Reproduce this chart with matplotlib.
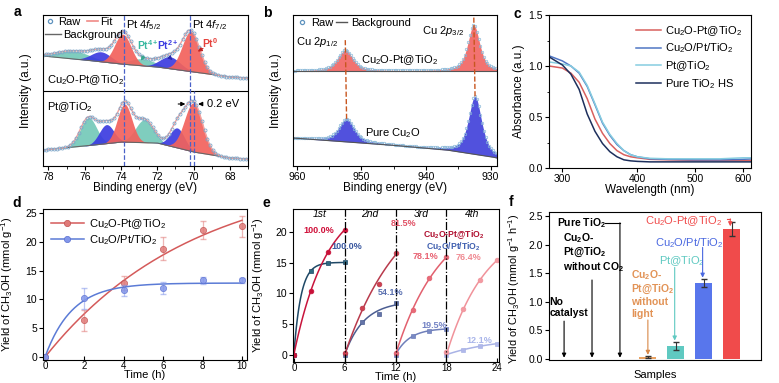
import numpy as np
import matplotlib.pyplot as plt
from matplotlib.lines import Line2D
from matplotlib.ticker import NullLocator, FormatStrFormatter

plt.rcParams['font.family'] = ['Liberation Sans', 'DejaVu Sans']
plt.rcParams['font.size'] = 8
plt.rcParams['mathtext.default'] = 'regular'
plt.rcParams['mathtext.fontset'] = 'custom'
plt.rcParams['mathtext.it'] = 'Liberation Sans:italic'
plt.rcParams['axes.linewidth'] = 0.8
plt.rcParams['xtick.labelsize'] = 7.5
plt.rcParams['ytick.labelsize'] = 7.5
plt.rcParams['xtick.major.size'] = 3
plt.rcParams['ytick.major.size'] = 3
plt.rcParams['xtick.minor.size'] = 1.8
plt.rcParams['ytick.minor.size'] = 1.8
plt.rcParams['xtick.major.pad'] = 1.2
plt.rcParams['ytick.major.pad'] = 1.2

# ---------------- data ----------------
# a : Pt 4f XPS (peak centre eV, height, sigma), y in arbitrary units
a_bg_ev = [78.3, 76, 74, 72, 70, 68, 67]
a_bg_top = [110, 106, 102, 99, 94, 89, 88]
a_bg_bot = [16, 20, 24, 23, 14, 8, 7]
a_state = ['Pt4+', 'Pt4+', 'Pt2+', 'Pt2+', 'Pt0', 'Pt0']
a_c_top = [76.6, 72.8, 75.1, 71.3, 73.9, 70.15]
a_h_top = [8, 7, 10, 12, 30, 40]
a_s_top = [0.9, 0.7, 0.55, 0.55, 0.45, 0.48]
a_c_bot = [75.8, 72.7, 74.8, 70.9, 73.8, 70.0]
a_h_bot = [28, 23, 19, 20, 38, 49]
a_s_bot = [0.45, 0.5, 0.4, 0.4, 0.4, 0.5]

# b : Cu 2p XPS (centre, height, fwhm)
b_bg_ev = [960.6, 945.6, 936.8, 929.7, 929]
b_bg_top = [95, 95, 95, 95, 95]
b_bg_bot = [28, 21, 16, 9, 8]
b_c_top = [952.5, 932.6]
b_h_top = [21, 46]
b_w_top = [2.8, 2.2]
b_c_bot = [952.3, 932.4]
b_h_bot = [23, 58]
b_w_bot = [2.8, 2.4]

# c : UV-vis (log wavelength axis)
c_wl = [285, 300, 310, 320, 330, 340, 350, 360, 370, 380, 390, 400, 420, 450, 500, 550, 600, 620]
c_names = ['Cu$_2$O-Pt@TiO$_2$', 'Cu$_2$O/Pt/TiO$_2$', 'Pt@TiO$_2$', 'Pure TiO$_2$ HS']
c_abs = [
    [1.00, 0.98, 0.93, 0.84, 0.68, 0.48, 0.34, 0.24, 0.17, 0.13, 0.11, 0.10, 0.085, 0.08, 0.075, 0.075, 0.075, 0.075],
    [1.10, 1.05, 1.00, 0.93, 0.80, 0.62, 0.44, 0.32, 0.23, 0.17, 0.13, 0.11, 0.09, 0.085, 0.08, 0.08, 0.085, 0.09],
    [1.04, 1.02, 1.00, 0.94, 0.81, 0.63, 0.45, 0.33, 0.24, 0.17, 0.13, 0.11, 0.095, 0.09, 0.09, 0.09, 0.10, 0.10],
    [1.09, 1.01, 0.92, 0.77, 0.53, 0.36, 0.24, 0.16, 0.11, 0.08, 0.07, 0.065, 0.06, 0.06, 0.06, 0.06, 0.06, 0.06],
]
c_colors = ['#d9605e', '#4f76c4', '#86cde0', '#1d2f5c']

# d : yield vs time
d_t = [0, 2, 4, 6, 8, 10]
d_red = [0, 6.4, 12.9, 18.8, 22.1, 22.7]
d_red_err = [0, 1.8, 1.2, 2.0, 1.6, 1.8]
d_blue = [0, 10.2, 11.6, 12.0, 13.3, 13.3]
d_blue_err = [0, 1.8, 1.0, 1.0, 0.6, 0.5]

# e : recycling
e_start = [0, 6, 12, 18]
e_t = [0, 2, 4, 6]
e_red = [[0, 10.4, 16.7, 20.4], [0.3, 7.7, 11.6, 16.6], [0.3, 7.3, 12.5, 15.9], [0.5, 7.5, 12.2, 15.5]]
e_blue = [[0, 13.7, 14.9, 15.1], [0, 5.4, 6.7, 8.4], [0, 3.0, 3.9, 4.2], [0, 0.8, 1.4, 1.8]]
e_red_pct = ['100.0%', '81.5%', '78.1%', '76.4%']
e_blue_pct = ['100.0%', '54.1%', '19.5%', '12.1%']
e_cycle = ['1st', '2nd', '3rd', '4th']

# f : control experiments
f_vals = [0, 0, 0, 0.03, 0.22, 1.33, 2.27]
f_err = [0, 0, 0, 0.02, 0.07, 0.07, 0.12]
f_colors = ['#000000', '#000000', '#000000', '#e9a262', '#5fc9c1', '#5876ec', '#f04b4b']

W, H = 779, 383


def box(l, t, r, b):
    return [l / W, 1 - b / H, (r - l) / W, (b - t) / H]


def gauss(x, c, h, s):
    return h * np.exp(-(x - c) ** 2 / (2 * s ** 2))


def pvoigt(x, c, h, w, eta=0.65):
    g = np.exp(-4 * np.log(2) * (x - c) ** 2 / w ** 2)
    lo = 1 / (1 + 4 * (x - c) ** 2 / w ** 2)
    return h * (eta * lo + (1 - eta) * g)


def sat_fit(t, y):
    t = np.asarray(t, float)
    y = np.asarray(y, float)
    best = None
    for k in np.linspace(0.01, 3, 900):
        f = 1 - np.exp(-k * t)
        a = (f @ y) / (f @ f)
        err = ((a * f - y) ** 2).sum()
        if best is None or err < best[0]:
            best = (err, a, k)
    return best[1], best[2]


fig = plt.figure(figsize=(7.79, 3.83), dpi=100)

for lab, px, py in [('a', 17, 12), ('b', 267, 13), ('c', 517, 14),
                    ('d', 17, 203), ('e', 266, 203), ('f', 511, 202)]:
    fig.text(px / W, 1 - py / H, lab, fontsize=10, fontweight='bold', ha='center', va='center')

# ---------------- a ----------------
ax = fig.add_axes(box(43, 15, 248, 166))
x = np.linspace(78.3, 67, 600)
fills = {'Pt4+': '#74c9b9', 'Pt2+': '#3b3be0', 'Pt0': '#f2625c'}
for bgv, cs, hs, ss in [(a_bg_top, a_c_top, a_h_top, a_s_top), (a_bg_bot, a_c_bot, a_h_bot, a_s_bot)]:
    bg = np.interp(x, a_bg_ev[::-1], bgv[::-1])
    env = bg.copy()
    for st in ['Pt4+', 'Pt2+', 'Pt0']:
        for s_, c_, h_, w_ in zip(a_state, cs, hs, ss):
            if s_ == st:
                p = gauss(x, c_, h_, w_)
                ax.fill_between(x, bg, bg + p, color=fills[st], lw=0, alpha=0.92)
    for c_, h_, w_ in zip(cs, hs, ss):
        env = env + gauss(x, c_, h_, w_)
    ax.plot(x, bg, color='#666666', lw=0.8)
    ax.plot(x, env, color='#f3a3a0', lw=1.0)
    ax.plot(x[::8], env[::8], 'o', ms=2.2, mfc='none', mec='#7ea6c8', mew=0.6)
ax.axhline(75, color='k', lw=0.8)
ax.axvline(73.85, color='#4a62c8', ls='--', lw=0.9)
ax.axvline(70.2, color='#4a62c8', ls='--', lw=0.9)
ax.plot([70.0, 70.0], [0, 75], color='#4a62c8', ls='--', lw=0.9)
ax.set_xlim(78.3, 67)
ax.set_ylim(0, 151)
ax.set_yticks([])
ax.set_xticks([78, 76, 74, 72, 70, 68])
ax.set_xticks(np.arange(67, 79, 1), minor=True)
ax.set_xlabel('Binding energy (eV)', fontsize=8.5)
ax.xaxis.set_label_coords(0.5, -0.105)
ax.set_ylabel('Intensity (a.u.)', fontsize=8.5)
ax.yaxis.set_label_coords(-0.055, 0.5)
ax.text(73.75, 141, 'Pt 4$\\mathit{f}_{5/2}$', fontsize=8, va='center')
ax.text(70.07, 141, 'Pt 4$\\mathit{f}_{7/2}$', fontsize=8, va='center')
ax.text(72.5, 121, 'Pt$^{4+}$', color='#38b8a0', fontsize=7.5, ha='center', va='center', fontweight='bold')
ax.text(71.4, 121, 'Pt$^{2+}$', color='#3b3be0', fontsize=7.5, ha='center', va='center', fontweight='bold')
ax.text(69.07, 123, 'Pt$^{0}$', color='#e5423c', fontsize=7.5, ha='center', va='center', fontweight='bold')
for (x0, y0, x1, y1, col) in [(72.66, 112, 72.99, 103, '#38a890'), (71.4, 110, 71.05, 104, '#2a2ab0'),
                              (69.35, 119, 69.9, 113, '#c02020')]:
    ax.annotate('', xy=(x1, y1), xytext=(x0, y0),
                arrowprops=dict(arrowstyle='-|>', color=col, lw=0.8, mutation_scale=6))
ax.annotate('', xy=(70.3, 62), xytext=(71.0, 62),
            arrowprops=dict(arrowstyle='-|>', color='k', lw=0.8, mutation_scale=6))
ax.annotate('', xy=(69.9, 62), xytext=(69.35, 62),
            arrowprops=dict(arrowstyle='-|>', color='k', lw=0.8, mutation_scale=6))
ax.text(69.25, 62, '0.2 eV', fontsize=8, va='center')
ax.text(78.08, 86, 'Cu$_2$O-Pt@TiO$_2$', fontsize=8, va='center')
ax.text(78.08, 59, 'Pt@TiO$_2$', fontsize=8, va='center')
h_raw = Line2D([], [], ls='none', marker='o', ms=3, mfc='none', mec='#5f93bf', mew=0.9)
h_fit = Line2D([], [], color='#f08a86', lw=1.2)
h_bg = Line2D([], [], color='#666666', lw=1.0)
leg1 = ax.legend([h_raw, h_fit], ['Raw', 'Fit'], loc='upper left', ncol=2, frameon=False,
                 fontsize=8, handlelength=1.0, handletextpad=0.2, columnspacing=0.6,
                 borderaxespad=0.0, borderpad=0.15)
ax.add_artist(leg1)
ax.legend([h_bg], ['Background'], loc='upper left', bbox_to_anchor=(0.0, 0.91), frameon=False,
          fontsize=8, handlelength=1.5, handletextpad=0.2, borderaxespad=0.0, borderpad=0.15)

# ---------------- b ----------------
ax = fig.add_axes(box(293, 15, 497, 166))
x = np.linspace(960.6, 929, 700)
for bgv, cs, hs, ws, col in [(b_bg_top, b_c_top, b_h_top, b_w_top, '#f26a68'),
                             (b_bg_bot, b_c_bot, b_h_bot, b_w_bot, '#4747dc')]:
    bg = np.interp(x, b_bg_ev[::-1], bgv[::-1])
    env = bg.copy()
    for c_, h_, w_ in zip(cs, hs, ws):
        env = env + pvoigt(x, c_, h_, w_)
    ax.fill_between(x, bg, env, color=col, lw=0, alpha=0.95)
    ax.plot(x[::6], env[::6], 'o', ms=1.8, mfc='none', mec='#88b8d8', mew=0.5)
    ax.plot(x, bg, color='#555555', lw=0.8)
for c0, c1, top in zip(b_c_bot, b_c_top, [126, 151]):
    ax.plot([c0, c1], [b_h_bot[b_c_bot.index(c0)] + np.interp(c0, b_bg_ev[::-1], b_bg_bot[::-1]), top],
            color='#c8561f', ls='--', lw=1.0)
ax.set_xlim(960.6, 929)
ax.set_ylim(0, 151)
ax.set_yticks([])
ax.set_xticks([960, 950, 940, 930])
ax.set_xticks(np.arange(930, 961, 5), minor=True)
ax.set_xlabel('Binding energy (eV)', fontsize=8.5)
ax.xaxis.set_label_coords(0.5, -0.105)
ax.set_ylabel('Intensity (a.u.)', fontsize=8.5)
ax.yaxis.set_label_coords(-0.054, 0.5)
ax.text(956.9, 124, 'Cu 2$\\mathit{p}_{1/2}$', fontsize=8, ha='center', va='center')
ax.text(937.4, 135, 'Cu 2$\\mathit{p}_{3/2}$', fontsize=8, ha='center', va='center')
ax.text(944.1, 106, 'Cu$_2$O-Pt@TiO$_2$', fontsize=8, ha='center', va='center')
ax.text(945.1, 33, 'Pure Cu$_2$O', fontsize=8, ha='center', va='center')
h_raw = Line2D([], [], ls='none', marker='o', ms=3, mfc='none', mec='#5f93bf', mew=0.9)
h_bg = Line2D([], [], color='#555555', lw=1.0)
ax.legend([h_raw, h_bg], ['Raw', 'Background'], loc='upper left', ncol=2, frameon=False,
          fontsize=8, handlelength=1.0, handletextpad=0.3, columnspacing=0.3,
          borderaxespad=0.1, borderpad=0.2)

# ---------------- c ----------------
ax = fig.add_axes(box(549, 15, 751, 168))
for name, ys, col in zip(c_names, c_abs, c_colors):
    ax.plot(c_wl, ys, color=col, lw=1.1, label=name)
ax.set_xscale('log')
ax.set_xlim(285, 619)
ax.set_ylim(0, 1.5)
ax.set_xticks([300, 400, 500, 600])
ax.xaxis.set_major_formatter(FormatStrFormatter('%d'))
ax.xaxis.set_minor_locator(NullLocator())
ax.set_yticks([0, 0.5, 1.0, 1.5])
ax.set_yticks(np.arange(0, 1.51, 0.25), minor=True)
ax.yaxis.set_major_formatter(FormatStrFormatter('%.1f'))
ax.set_xlabel('Wavelength (nm)', fontsize=8.5)
ax.xaxis.set_label_coords(0.5, -0.105)
ax.set_ylabel('Absorbance (a.u.)', fontsize=8.5)
ax.yaxis.set_label_coords(-0.12, 0.5)
ax.legend(loc='upper right', frameon=False, fontsize=8, handlelength=2.2, handletextpad=0.4,
          labelspacing=0.35, borderaxespad=0.4)

# ---------------- d ----------------
ax = fig.add_axes(box(43, 209, 247, 360))
for ys, es, lc, fc, ec in [(d_red, d_red_err, '#d45a5a', '#e07a78', '#c05050'),
                           (d_blue, d_blue_err, '#5b7bd6', '#8296ea', '#5a70d0')]:
    a_, k_ = sat_fit(d_t, ys)
    tt = np.linspace(0, max(d_t), 200)
    ax.plot(tt, a_ * (1 - np.exp(-k_ * tt)), color=lc, lw=1.1)
    ax.errorbar(d_t, ys, yerr=es, fmt='none', ecolor=fc, alpha=0.55, elinewidth=0.9, capsize=2)
    ax.plot(d_t, ys, 'o', ms=4.5, mfc=fc, mec=ec, mew=0.5, alpha=0.85)
h1 = Line2D([], [], color='#d45a5a', lw=1.1, marker='o', ms=4.5, mfc='#e07a78', mec='#c05050', mew=0.5)
h2 = Line2D([], [], color='#5b7bd6', lw=1.1, marker='o', ms=4.5, mfc='#8296ea', mec='#5a70d0', mew=0.5)
ax.legend([h1, h2], ['Cu$_2$O-Pt@TiO$_2$', 'Cu$_2$O/Pt/TiO$_2$'], loc='upper left', frameon=False,
          fontsize=8, handlelength=3.0, handletextpad=0.4, labelspacing=0.2, borderaxespad=0.3)
ax.set_xlim(-0.1, 10.25)
ax.set_ylim(-0.5, 25.7)
ax.set_xticks([0, 2, 4, 6, 8, 10])
ax.set_yticks([0, 5, 10, 15, 20, 25])
ax.tick_params(axis='x', direction='in', pad=1.0, labelsize=7)
ax.set_xlabel('Time (h)', fontsize=8)
ax.xaxis.set_label_coords(0.5, -0.068)
ax.set_ylabel('Yield of CH$_3$OH (mmol g$^{-1}$)', fontsize=8)
ax.yaxis.set_label_coords(-0.135, 0.5)

# ---------------- e ----------------
ax = fig.add_axes(box(293, 209, 499, 362))
red_cols = ['#c8143c', '#b83a4c', '#e2606e', '#f0929a']
blue_cols = ['#1f4866', '#4c5e92', '#6f7fba', '#a9b3e6']
red_mk = ['#c81038', '#d04050', '#e86a78', '#f39aa2']
blue_mk = ['#2f6a82', '#6474a8', '#7a8ac4', '#b0b8ea']
for i, t0 in enumerate(e_start):
    tt = np.array(e_t) + t0
    fine = np.linspace(0, max(e_t), 100)
    for ys, lc, mc, mk in [(e_blue[i], blue_cols[i], blue_mk[i], 's'), (e_red[i], red_cols[i], red_mk[i], 'o')]:
        a_, k_ = sat_fit(e_t, ys)
        ax.plot(fine + t0, a_ * (1 - np.exp(-k_ * fine)), color=lc, lw=1.1)
        ax.plot(tt, ys, mk, ms=3.4, mfc=mc, mec=lc, mew=0.5)
for t0 in e_start[1:]:
    ax.axvline(t0, color='k', ls='-.', lw=0.9)
for i, t0 in enumerate(e_start):
    ax.text(t0 + 3, 23.0, e_cycle[i], fontsize=7.5, style='italic', ha='center', va='center')
for s, (xx, yy), col in zip(e_red_pct, [(2.9, 20.3), (12.9, 21.4), (15.5, 16.1), (20.6, 15.9)],
                            ['#d0103a', '#e05064', '#e86272', '#f08a92']):
    ax.text(xx, yy, s, color=col, fontsize=6.5, fontweight='bold', ha='center', va='center')
for s, (xx, yy), col in zip(e_blue_pct, [(6.3, 17.6), (11.4, 10.2), (16.6, 4.8), (21.9, 2.3)],
                            ['#3a58a0', '#5a70b0', '#7282c4', '#aab6ea']):
    ax.text(xx, yy, s, color=col, fontsize=6.5, fontweight='bold', ha='center', va='center')
ax.text(18.8, 19.7, 'Cu$_2$O-Pt@TiO$_2$', color='#b01030', fontsize=6.2, fontweight='bold', ha='center', va='center')
ax.text(18.8, 17.6, 'Cu$_2$O/Pt/TiO$_2$', color='#4060b0', fontsize=6.2, fontweight='bold', ha='center', va='center')
ax.set_xlim(-0.1, 24.2)
ax.set_ylim(-1.2, 23.8)
ax.set_xticks([0, 6, 12, 18, 24])
ax.set_yticks([0, 5, 10, 15, 20])
ax.tick_params(axis='x', direction='in', pad=1.0, labelsize=7)
ax.set_xlabel('Time (h)', fontsize=8)
ax.xaxis.set_label_coords(0.5, -0.068)
ax.set_ylabel('Yield of CH$_3$OH (mmol g$^{-1}$)', fontsize=8)
ax.yaxis.set_label_coords(-0.13, 0.5)

# ---------------- f ----------------
ax = fig.add_axes(box(549, 212, 761, 360))
pos = np.arange(1, len(f_vals) + 1)
ax.bar(pos, f_vals, width=0.6, color=f_colors, edgecolor='none')
for p, v, e, c in zip(pos, f_vals, f_err, f_colors):
    if e > 0:
        ax.errorbar(p, v, yerr=e, fmt='none', ecolor='#333333', elinewidth=0.8, capsize=2)
ax.set_xlim(0.46, 8.05)
ax.set_ylim(-0.02, 2.57)
ax.set_xticks([])
ax.set_yticks([0, 0.5, 1.0, 1.5, 2.0, 2.5])
ax.yaxis.set_major_formatter(FormatStrFormatter('%.1f'))
ax.set_xlabel('Samples', fontsize=8)
ax.xaxis.set_label_coords(0.5, -0.068)
ax.set_ylabel('Yield of CH$_3$OH (mmol g$^{-1}$ h$^{-1}$)', fontsize=7.8)
ax.yaxis.set_label_coords(-0.125, 0.48)


def arrow(x0, y0, x1, y1, col):
    ax.annotate('', xy=(x1, y1), xytext=(x0, y0),
                arrowprops=dict(arrowstyle='-|>', color=col, lw=0.8, mutation_scale=6,
                                shrinkA=0, shrinkB=0))


ax.text(0.47, 0.9, 'No\ncatalyst', fontsize=7.5, fontweight='bold', va='center', linespacing=1.2)
arrow(1, 0.66, 1, 0.02, 'k')
ax.text(0.96, 1.86, 'Cu$_2$O-\nPt@TiO$_2$\nwithout CO$_2$', fontsize=7.5, fontweight='bold', va='center',
        linespacing=1.15)
arrow(2, 1.38, 2, 0.02, 'k')
ax.text(0.75, 2.38, 'Pure TiO$_2$', fontsize=7.5, fontweight='bold', va='center')
ax.plot([2.45, 3.0], [2.38, 2.38], color='k', lw=0.8)
arrow(3.0, 2.38, 3.0, 0.02, 'k')
ax.text(3.4, 1.15, 'Cu$_2$O-\nPt@TiO$_2$\nwithout\nlight', color='#e29356', fontsize=7.5, fontweight='bold',
        va='center', linespacing=1.15)
arrow(4, 0.68, 4, 0.07, '#d88848')
ax.text(4.4, 1.71, 'Pt@TiO$_2$', color='#5fc9c1', fontsize=8, va='center')
arrow(4.96, 1.60, 4.96, 0.32, '#5fc9c1')
ax.text(4.25, 2.03, 'Cu$_2$O/Pt/TiO$_2$', color='#4a68e0', fontsize=8, va='center')
arrow(5.96, 1.95, 5.96, 1.42, '#4a68e0')
ax.text(3.9, 2.41, 'Cu$_2$O-Pt@TiO$_2$', color='#f04b4b', fontsize=8, va='center')
ax.plot([6.82, 6.95], [2.45, 2.45], color='#f04b4b', lw=0.8)
arrow(6.95, 2.45, 6.95, 2.32, '#f04b4b')

fig.savefig('out.png', dpi=100)
